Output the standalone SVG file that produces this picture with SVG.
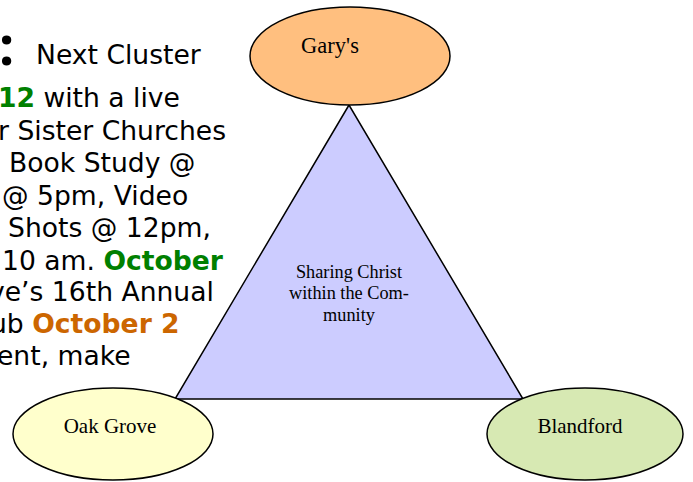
<svg xmlns="http://www.w3.org/2000/svg" width="693" height="482" viewBox="0 0 693 482">
<style>
.body{font-family:"DejaVu Sans",Verdana,sans-serif;font-size:26.6px;fill:#000}
.g{fill:#008000;font-weight:bold}
.o{fill:#CC6600;font-weight:bold}
.lbl{font-family:"Liberation Serif","Times New Roman",serif;font-size:21px;fill:#000;text-anchor:middle}
.ctr{font-family:"Liberation Serif","Times New Roman",serif;font-size:18.3px;fill:#000;text-anchor:middle}
.shape{stroke:#000;stroke-width:1.5}
</style>
<rect width="693" height="482" fill="#fff"/>
<g id="text-column" class="body">
<text x="-1" y="65" style="font-family:'Noto Sans',sans-serif;font-size:54px;font-weight:bold">:</text>
<text x="36" y="64">Next Cluster</text>
<text x="-2" y="107"><tspan class="g">12</tspan> with a live</text>
<text x="-2" y="140">r Sister Churches</text>
<text x="9" y="172">Book Study @</text>
<text x="2" y="205">@ 5pm, Video</text>
<text x="8" y="237">Shots @ 12pm,</text>
<text x="2" y="270">10 am. <tspan class="g">October</tspan></text>
<text x="-11" y="301">ve’s 16th Annual</text>
<text x="-10" y="333">ub <tspan class="o">October 2</tspan></text>
<text x="-3" y="365">ent, make</text>
</g>
<g id="triangle">
<polygon class="shape" points="349,105 175,399 523,399" fill="#CCCCFF"/>
<text class="ctr" x="349" y="278">Sharing Christ</text>
<text class="ctr" x="349" y="299">within the Com-</text>
<text class="ctr" x="349" y="321">munity</text>
</g>
<g id="connectors"></g>
<g id="garys">
<ellipse class="shape" cx="350" cy="56" rx="100" ry="49" fill="#FFBF7F"/>
<text class="lbl" x="330" y="53" style="font-size:22.5px">Gary's</text>
</g>
<g id="oak-grove">
<ellipse class="shape" cx="113" cy="434" rx="100" ry="46" fill="#FFFFCC"/>
<text class="lbl" x="110" y="433">Oak Grove</text>
</g>
<g id="blandford">
<ellipse class="shape" cx="585" cy="434" rx="98" ry="46" fill="#D7E9B3"/>
<text class="lbl" x="580" y="433">Blandford</text>
</g>
</svg>
